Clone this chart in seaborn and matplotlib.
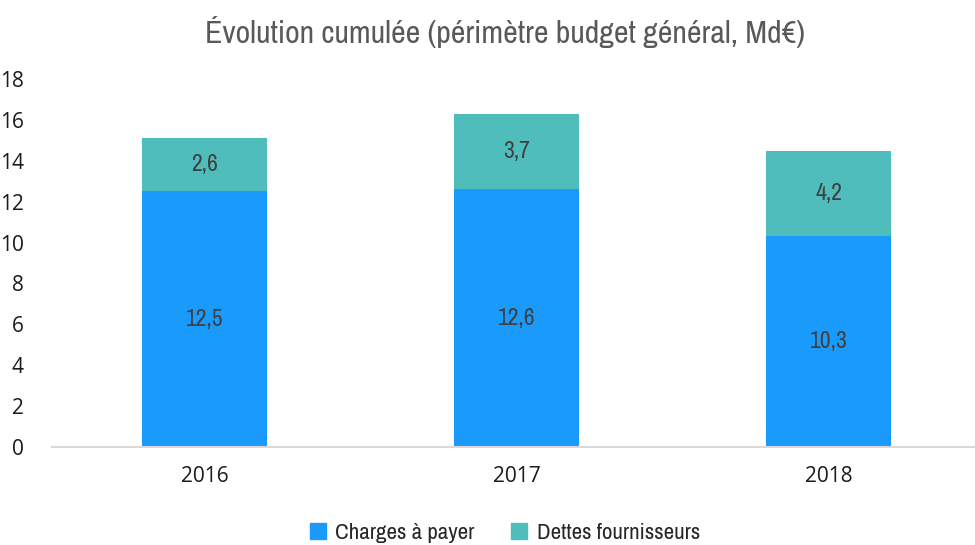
import pandas as pd
import matplotlib.pyplot as plt
import seaborn as sns

annees = ['2016', '2017', '2018']
charges = [12.5, 12.6, 10.3]
dettes = [2.6, 3.7, 4.2]

df = pd.DataFrame({'annee': annees, 'charges': charges, 'dettes': dettes})
df['total'] = df['charges'] + df['dettes']

bleu = '#1A9BFC'
vert = '#50BDBD'
narrow = ['Archivo Narrow', 'PT Sans Narrow', 'DejaVu Sans']

sns.set_style('white')
plt.rcParams['font.family'] = ['Open Sans', 'DejaVu Sans']

fig = plt.figure(figsize=(9.75, 5.45), dpi=100)
ax = fig.add_axes([0.053, 0.18, 0.947, 0.675])

# total en dessous, charges par-dessus -> empilement
sns.barplot(data=df, x='annee', y='total', color=vert, width=0.4,
            saturation=1, ax=ax, linewidth=0)
sns.barplot(data=df, x='annee', y='charges', color=bleu, width=0.4,
            saturation=1, ax=ax, linewidth=0)

for i, row in df.iterrows():
    ax.text(i, row['charges'] / 2, f"{row['charges']:.1f}".replace('.', ','),
            ha='center', va='center', fontsize=17, color='#404040', family=narrow)
    ax.text(i, row['charges'] + row['dettes'] / 2, f"{row['dettes']:.1f}".replace('.', ','),
            ha='center', va='center', fontsize=17, color='#404040', family=narrow)

ax.set_ylim(0, 18)
ax.set_yticks(range(0, 19, 2))
ax.set_xlim(-0.49, 2.468)
ax.set_xlabel('')
ax.set_ylabel('')
ax.tick_params(axis='both', length=0, labelsize=15, colors='#1a1a1a')
ax.tick_params(axis='y', pad=20)
ax.tick_params(axis='x', pad=14)
for s in ['top', 'right', 'left']:
    ax.spines[s].set_visible(False)
ax.spines['bottom'].set_color('#d9d9d9')
ax.spines['bottom'].set_linewidth(1.5)

fig.text(0.518, 0.942, 'Évolution cumulée (périmètre budget général, Md€)',
         ha='center', va='center', fontsize=23, color='#595959', family=narrow)

handles = [plt.Rectangle((0, 0), 1, 1, color=bleu), plt.Rectangle((0, 0), 1, 1, color=vert)]
leg = fig.legend(handles, ['Charges à payer', 'Dettes fournisseurs'], loc='center',
                 bbox_to_anchor=(0.518, 0.022), ncol=2, frameon=False,
                 handlelength=0.7, handleheight=0.7, handletextpad=0.4, columnspacing=1.6,
                 prop={'family': narrow, 'size': 16.5})

fig.savefig('out.png', dpi=100)
